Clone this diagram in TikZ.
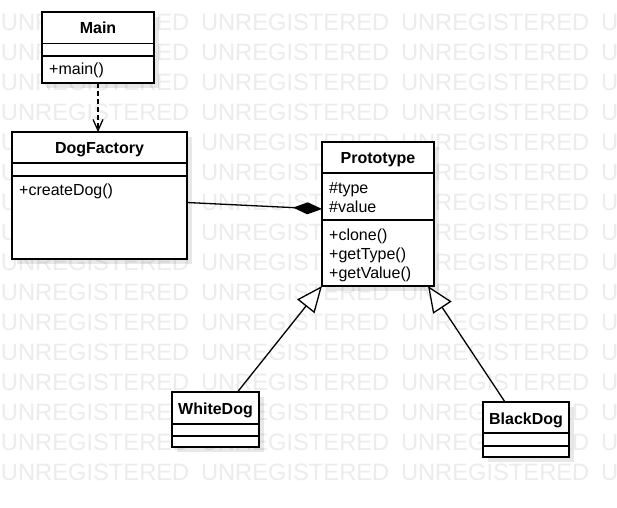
\documentclass[tikz,border=0pt]{standalone}
\usepackage{fontspec}
\setmainfont{Liberation Sans}
\usetikzlibrary{arrows.meta,shadows,calc}
\definecolor{wmark}{RGB}{236,236,236}
\tikzset{
  umlbox/.style={draw=black, fill=white, line width=1.3pt, inner sep=0pt,
    outer sep=0pt, anchor=north west,
    drop shadow={shadow xshift=5pt, shadow yshift=-5pt, opacity=0.09, fill=black}},
  sepline/.style={draw=black, line width=1.3pt},
  hdr/.style={inner sep=0pt, anchor=base, font=\bfseries\fontsize{16}{19}\selectfont},
  member/.style={inner sep=0pt, anchor=base west, font=\fontsize{16}{19}\selectfont},
  wm/.style={inner sep=0pt, anchor=base west, text=wmark, font=\fontsize{23.7}{28}\selectfont},
  dep/.style={line width=1.3pt, dash pattern=on 5pt off 3pt,
    -{Straight Barb[length=11pt,width=10pt]}},
  comp/.style={line width=1.3pt, -{Diamond[length=29pt,width=12pt]}},
  inh/.style={line width=1.3pt, -{Triangle[open,length=26pt,width=22pt,fill=white]}},
}
\begin{document}
\begin{tikzpicture}[x=1pt,y=-1pt]
  \useasboundingbox (0,0) rectangle (617,507);
  \fill[white] (0,0) rectangle (617,507);

  % repeated background watermark
  \begin{scope}
    \clip (0,0) rectangle (617,507);
    \foreach \r in {0,...,15}{
      \foreach \c in {0,...,3}{
        \node[wm] (wm-\r-\c) at ({0.8+200*\c},{30.3+30*\r}) {UNREGISTERED};
      }
    }
  \end{scope}

  % class boxes
  \node[umlbox, minimum width=112pt, minimum height=71pt] (main) at (42,12) {};
  \node[umlbox, minimum width=175pt, minimum height=127pt] (df) at (12,132) {};
  \node[umlbox, minimum width=112pt, minimum height=144pt] (proto) at (322,142) {};
  \node[umlbox, minimum width=87pt, minimum height=55pt] (wd) at (172,392) {};
  \node[umlbox, minimum width=86pt, minimum height=55pt] (bd) at (483,402) {};

  % compartment separators
  \draw[sepline] ([yshift=-31.5pt]main.north west) -- ([yshift=-31.5pt]main.north east);
  \draw[sepline] ([yshift=-44pt]main.north west) -- ([yshift=-44pt]main.north east);
  \draw[sepline] ([yshift=-31pt]df.north west) -- ([yshift=-31pt]df.north east);
  \draw[sepline] ([yshift=-44pt]df.north west) -- ([yshift=-44pt]df.north east);
  \draw[sepline] ([yshift=-31pt]proto.north west) -- ([yshift=-31pt]proto.north east);
  \draw[sepline] ([yshift=-78pt]proto.north west) -- ([yshift=-78pt]proto.north east);
  \draw[sepline] ([yshift=-32pt]wd.north west) -- ([yshift=-32pt]wd.north east);
  \draw[sepline] ([yshift=-44pt]wd.north west) -- ([yshift=-44pt]wd.north east);
  \draw[sepline] ([yshift=-31pt]bd.north west) -- ([yshift=-31pt]bd.north east);
  \draw[sepline] ([yshift=-44pt]bd.north west) -- ([yshift=-44pt]bd.north east);

  % class names
  \node[hdr] (main-name) at (98,33.3) {Main};
  \node[hdr] (df-name) at (99.5,153.3) {DogFactory};
  \node[hdr] (proto-name) at (378,163.3) {Prototype};
  \node[hdr] (wd-name) at (215.5,414) {WhiteDog};
  \node[hdr] (bd-name) at (526,424) {BlackDog};

  % members
  \node[member] (main-op1) at (49,74) {+main()};
  \node[member] (df-op1) at (19,195.3) {+createDog()};
  \node[member] (proto-at1) at (329,193) {\#type};
  \node[member] (proto-at2) at (329,212) {\#value};
  \node[member] (proto-op1) at (329,240) {+clone()};
  \node[member] (proto-op2) at (329,259.3) {+getType()};
  \node[member] (proto-op3) at (329,278.5) {+getValue()};

  % relations
  \draw[dep] (main.south) -- (main.south |- df.north);
  \draw[comp] ([yshift=-7pt]df.east) -- ([yshift=5pt]proto.west);
  \draw[inh] ([xshift=22pt]wd.north) -- (proto.south west);
  \draw[inh] ([xshift=-21pt]bd.north) -- ([xshift=-6pt]proto.south east);
\end{tikzpicture}
\end{document}
